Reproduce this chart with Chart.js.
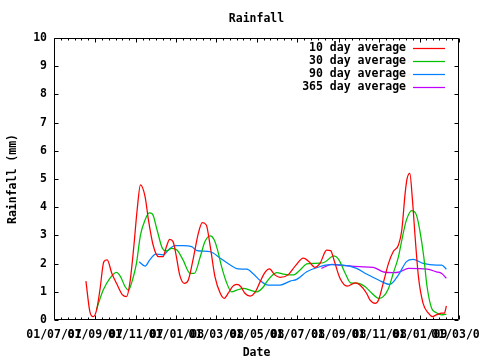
<!DOCTYPE html>
<html><head><meta charset="utf-8">
<script src="https://cdn.jsdelivr.net/npm/chart.js@4"></script>
<style>html,body{margin:0;padding:0;background:#fff}#wrap{width:480px;height:360px}</style>
</head><body><div id="wrap"><canvas id="c" width="480" height="360"></canvas></div>
<script>
// x values are days since 01/07/07
const tickDays   = [0, 62, 123, 184, 244, 305, 366, 428, 489, 550, 609];
const tickLabels = ["01/07/07","01/09/07","01/11/07","01/01/08","01/03/08","01/05/08","01/07/08","01/09/08","01/11/08","01/01/09","01/03/09"];
const yTickValues = [0,1,2,3,4,5,6,7,8,9,10];
const seriesNames = ["10 day average","30 day average","90 day average","365 day average"];
const seriesColors = ["#ff0000","#00c000","#0080ff","#c000ff"];

const days10 = [48,54,59,64,69,75,80,87,94,103,109,114,120,125,130,137,142,149,157,164,169,174,179,184,189,196,202,210,217,223,229,235,242,250,256,262,269,275,281,287,295,302,310,317,324,332,340,352,362,375,385,392,400,410,416,421,430,441,453,460,470,475,483,488,495,503,510,518,523,528,531,535,539,543,548,555,563,569,575,583,587,590];
const vals10 = [1.38,0.29,0.12,0.35,1.06,2.07,2.13,1.65,1.30,0.89,0.83,1.30,2.6,3.9,4.79,4.37,3.55,2.66,2.25,2.25,2.6,2.86,2.78,2.25,1.6,1.3,1.42,2.25,3.07,3.45,3.37,2.6,1.54,0.95,0.77,0.95,1.2,1.26,1.18,0.95,0.85,0.97,1.36,1.68,1.81,1.6,1.51,1.6,1.89,2.19,2.03,1.87,2.01,2.48,2.46,2.13,1.48,1.2,1.32,1.24,0.95,0.71,0.59,0.71,1.3,2.01,2.42,2.66,3.19,4.49,5.02,5.2,4.26,2.95,1.54,0.59,0.24,0.12,0.18,0.24,0.24,0.5];

const days30 = [64,74,84,94,100,107,112,118,124,130,137,143,148,155,163,169,177,185,194,205,211,220,227,235,241,246,252,259,267,275,285,295,305,315,320,335,345,360,370,380,390,405,421,428,438,446,458,468,478,488,495,503,510,518,524,530,538,545,550,556,561,568,575,583,590];
const vals30 = [0.38,1.06,1.48,1.69,1.54,1.18,1.06,1.42,2.01,3.01,3.55,3.8,3.76,3.19,2.54,2.45,2.54,2.48,2.13,1.65,1.65,2.25,2.78,2.98,2.84,2.48,1.89,1.36,1.0,1.06,1.12,1.06,1.0,1.18,1.36,1.68,1.63,1.6,1.77,1.99,2.01,2.03,2.27,2.15,1.65,1.32,1.3,1.18,0.95,0.77,0.83,1.12,1.65,2.25,2.95,3.55,3.88,3.72,3.19,2.25,1.18,0.41,0.26,0.18,0.21];

const days90 = [128,137,144,153,164,173,182,194,207,215,235,250,265,277,290,300,310,322,340,355,365,380,397,415,435,455,470,488,505,518,530,540,555,575,583,590];
const vals90 = [2.07,1.91,2.13,2.34,2.31,2.51,2.64,2.64,2.6,2.46,2.42,2.19,1.95,1.81,1.8,1.63,1.4,1.24,1.24,1.38,1.44,1.71,1.87,1.96,1.95,1.83,1.63,1.42,1.26,1.6,2.07,2.15,2.01,1.95,1.95,1.8];

const days365 = [402,418,435,460,480,495,510,520,533,561,575,583,590];
const vals365 = [1.83,1.97,1.93,1.89,1.87,1.71,1.68,1.71,1.83,1.8,1.71,1.65,1.48];

const FONT = {family: "'DejaVu Sans Mono', monospace", size: 11.5, weight: 'bold'};
const toPts = (d, v) => d.map((x, i) => ({x: x, y: v[i]}));
const allDays = [days10, days30, days90, days365];
const allVals = [vals10, vals30, vals90, vals365];

const framePlugin = {
  id: 'frame',
  afterDatasetsDraw(chart) {
    const {ctx, chartArea: a, scales: {x, y}} = chart;
    const L = Math.round(a.left) + 0.5, R = Math.round(a.right) - 0.5;
    const T = Math.round(a.top) + 0.5, B = Math.round(a.bottom) - 0.5;
    ctx.save();
    ctx.strokeStyle = '#000';
    ctx.lineWidth = 1;
    ctx.beginPath();
    ctx.rect(L, T, R - L, B - T);
    yTickValues.forEach(v => {
      const py = Math.round(y.getPixelForValue(v)) + 0.5;
      ctx.moveTo(L, py); ctx.lineTo(L + 4, py);
      ctx.moveTo(R, py); ctx.lineTo(R - 4, py);
    });
    tickDays.forEach((d, i) => {
      const px = Math.round(x.getPixelForValue(d)) + 0.5;
      ctx.moveTo(px, B); ctx.lineTo(px, B - 4);
      ctx.moveTo(px, T); ctx.lineTo(px, T + 4);
      if (i < tickDays.length - 1) {
        for (let k = 1; k < 6; k++) {
          const md = d + (tickDays[i + 1] - d) * k / 6;
          const mx = Math.round(x.getPixelForValue(md)) + 0.5;
          ctx.moveTo(mx, B); ctx.lineTo(mx, B - 2);
          ctx.moveTo(mx, T); ctx.lineTo(mx, T + 2);
        }
      }
    });
    ctx.stroke();
    // legend
    ctx.font = `bold ${FONT.size}px ${FONT.family}`;
    ctx.textAlign = 'right';
    ctx.textBaseline = 'middle';
    ctx.fillStyle = '#000';
    chart.data.datasets.forEach((ds, i) => {
      const ly = 48 + 13 * i;
      ctx.fillText(ds.label, 406, ly);
      ctx.beginPath();
      ctx.strokeStyle = ds.borderColor;
      ctx.lineWidth = 1.25;
      ctx.moveTo(413, ly + 0.5); ctx.lineTo(445, ly + 0.5);
      ctx.stroke();
    });
    ctx.restore();
  }
};

Chart.defaults.color = '#000';
new Chart(document.getElementById('c'), {
  type: 'line',
  data: {
    datasets: seriesNames.map((n, i) => ({
      label: n,
      data: toPts(allDays[i], allVals[i]),
      borderColor: seriesColors[i],
      backgroundColor: seriesColors[i],
      borderWidth: 1.25,
      pointRadius: 0,
      fill: false,
      cubicInterpolationMode: 'monotone'
    }))
  },
  options: {
    responsive: false,
    animation: false,
    devicePixelRatio: 1,
    layout: {padding: {left: 0, right: 21, top: 0, bottom: 0}},
    plugins: {
      legend: {display: false},
      tooltip: {enabled: false},
      title: {display: true, text: 'Rainfall', fullSize: false, font: FONT, color: '#000', padding: {top: 12, bottom: 12.2}}
    },
    scales: {
      x: {
        type: 'linear', min: 0, max: 609,
        grid: {display: false, drawTicks: false},
        border: {display: false},
        afterBuildTicks(s) { s.ticks = tickDays.map(v => ({value: v})); },
        afterFit(s) { s.height = 40; s.paddingLeft = 0; s.paddingRight = 0; },
        ticks: {
          autoSkip: false, maxRotation: 0, minRotation: 0, padding: 8,
          font: FONT, color: '#000',
          callback(v) { const i = tickDays.indexOf(v); return i >= 0 ? tickLabels[i] : ''; }
        },
        title: {display: true, text: 'Date', font: FONT, color: '#000', padding: {top: 0, bottom: 0}}
      },
      y: {
        type: 'linear', min: 0, max: 10,
        grid: {display: false, drawTicks: false},
        border: {display: false},
        afterBuildTicks(s) { s.ticks = yTickValues.map(v => ({value: v})); },
        afterFit(s) { s.width = 54; },
        ticks: {padding: 7, font: FONT, color: '#000'},
        title: {display: true, text: 'Rainfall (mm)', font: FONT, color: '#000', padding: {top: 6, bottom: 0}}
      }
    }
  },
  plugins: [framePlugin]
});
</script>
</body></html>
